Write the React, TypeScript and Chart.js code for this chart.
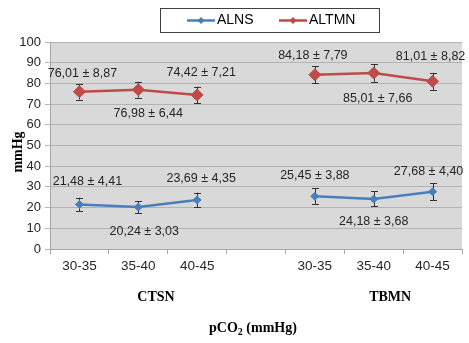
import React, { useEffect, useRef } from "react";
import { Chart, registerables } from "chart.js";
Chart.register(...registerables);

const categories = ["30-35", "35-40", "40-45", "", "30-35", "35-40", "40-45"];
const groups = ["CTSN", "TBMN"];
const alns = [21.48, 20.24, 23.69, null, 25.45, 24.18, 27.68];
const altmn = [76.01, 76.98, 74.42, null, 84.18, 85.01, 81.01];
const alnsErr = [3.3, 3.0, 3.6, null, 3.8, 3.6, 4.1];
const altmnErr = [3.8, 3.8, 4.0, null, 4.2, 4.2, 4.1];
const alnsLabels = ["21,48 ± 4,41", "20,24 ± 3,03", "23,69 ± 4,35", "", "25,45 ± 3,88", "24,18 ± 3,68", "27,68 ± 4,40"];
const altmnLabels = ["76,01 ± 8,87", "76,98 ± 6,44", "74,42 ± 7,21", "", "84,18 ± 7,79", "85,01 ± 7,66", "81,01 ± 8,82"];
const yMin = 0;
const yMax = 100;
const yStep = 10;
const xTitle = "pCO";
const xTitleSub = "2";
const xTitleRest = " (mmHg)";
const yTitle = "mmHg";

// label offsets (styling)
const alnsOff = [[8, -23], [6, 24], [4, -21], [0, 0], [0, -21], [0, 23], [-4, -20]];
const altmnOff = [[3, -18], [10, 24], [4, -22], [0, 0], [-2, -19], [4, 26], [-2, -25]];
const groupPos = [1.3, 5.28];

const BLUE = "#4a7ebb";
const RED = "#be4b48";

const plugin = {
  id: "custom",
  beforeDraw(chart: any) {
    const { ctx, chartArea: a } = chart;
    ctx.save();
    ctx.fillStyle = "#d9d9d9";
    ctx.fillRect(a.left, a.top, a.right - a.left, a.bottom - a.top);
    ctx.restore();
  },
  beforeDatasetsDraw(chart: any) {
    const { ctx } = chart;
    const xs = chart.scales.x;
    const ys = chart.scales.y;
    const sets = [
      [alns, alnsErr],
      [altmn, altmnErr],
    ];
    ctx.save();
    ctx.strokeStyle = "#333333";
    ctx.lineWidth = 1;
    sets.forEach(([vals, errs]: any) => {
      vals.forEach((v: any, i: number) => {
        if (v == null) return;
        const x = Math.round(xs.getPixelForValue(i)) + 0.5;
        const t = ys.getPixelForValue(v + errs[i]);
        const b = ys.getPixelForValue(v - errs[i]);
        ctx.beginPath();
        ctx.moveTo(x, t);
        ctx.lineTo(x, b);
        ctx.moveTo(x - 3.5, Math.round(t) + 0.5);
        ctx.lineTo(x + 3.5, Math.round(t) + 0.5);
        ctx.moveTo(x - 3.5, Math.round(b) + 0.5);
        ctx.lineTo(x + 3.5, Math.round(b) + 0.5);
        ctx.stroke();
      });
    });
    ctx.restore();
  },
  afterDraw(chart: any) {
    const { ctx } = chart;
    const xs = chart.scales.x;
    const ys = chart.scales.y;
    ctx.save();
    // data labels
    ctx.font = '12.5px "Liberation Sans"';
    ctx.fillStyle = "#262626";
    ctx.textAlign = "center";
    ctx.textBaseline = "middle";
    const lab = [
      [alns, alnsLabels, alnsOff],
      [altmn, altmnLabels, altmnOff],
    ];
    lab.forEach(([vals, labels, off]: any) => {
      vals.forEach((v: any, i: number) => {
        if (v == null) return;
        ctx.fillText(labels[i], xs.getPixelForValue(i) + off[i][0], ys.getPixelForValue(v) + off[i][1]);
      });
    });
    // group labels
    ctx.font = 'bold 14px "Liberation Serif"';
    ctx.fillStyle = "#000";
    groups.forEach((g, k) => {
      ctx.fillText(g, xs.getPixelForValue(groupPos[k]), 297);
    });
    // x title
    ctx.font = 'bold 14px "Liberation Serif"';
    const w1 = ctx.measureText(xTitle).width;
    ctx.font = 'bold 10px "Liberation Serif"';
    const w2 = ctx.measureText(xTitleSub).width;
    ctx.font = 'bold 14px "Liberation Serif"';
    const w3 = ctx.measureText(xTitleRest).width;
    const tw = w1 + w2 + w3;
    const sx = 253 - tw / 2;
    ctx.textAlign = "left";
    ctx.fillText(xTitle, sx, 328);
    ctx.font = 'bold 10px "Liberation Serif"';
    ctx.fillText(xTitleSub, sx + w1, 332);
    ctx.font = 'bold 14px "Liberation Serif"';
    ctx.fillText(xTitleRest, sx + w1 + w2, 328);
    // y title
    ctx.save();
    ctx.translate(18, 152);
    ctx.rotate(-Math.PI / 2);
    ctx.textAlign = "center";
    ctx.font = 'bold 14px "Liberation Serif"';
    ctx.fillText(yTitle, 0, 0);
    ctx.restore();
    // legend
    ctx.strokeStyle = "#404040";
    ctx.lineWidth = 1;
    ctx.fillStyle = "#ffffff";
    ctx.fillRect(160.5, 8.5, 219, 24);
    ctx.strokeRect(160.5, 8.5, 219, 24);
    const items = [
      { label: "ALNS", color: BLUE, x: 187 },
      { label: "ALTMN", color: RED, x: 279 },
    ];
    items.forEach((it) => {
      ctx.strokeStyle = it.color;
      ctx.lineWidth = 2.5;
      ctx.beginPath();
      ctx.moveTo(it.x, 20.5);
      ctx.lineTo(it.x + 28, 20.5);
      ctx.stroke();
      ctx.fillStyle = it.color;
      ctx.beginPath();
      const cx = it.x + 14;
      ctx.moveTo(cx, 17);
      ctx.lineTo(cx + 3.5, 20.5);
      ctx.lineTo(cx, 24);
      ctx.lineTo(cx - 3.5, 20.5);
      ctx.closePath();
      ctx.fill();
      ctx.fillStyle = "#000";
      ctx.font = '14px "Liberation Sans"';
      ctx.textAlign = "left";
      ctx.textBaseline = "middle";
      ctx.fillText(it.label, it.x + 30, 20.5);
    });
    ctx.restore();
  },
};

export default function App() {
  const ref = useRef<HTMLCanvasElement | null>(null);
  useEffect(() => {
    if (!ref.current) return;
    const chart = new Chart(ref.current, {
      type: "line",
      data: {
        labels: categories,
        datasets: [
          {
            label: "ALNS",
            data: alns,
            borderColor: BLUE,
            backgroundColor: BLUE,
            borderWidth: 2.5,
            pointStyle: "rectRot",
            pointRadius: 4,
            pointBorderWidth: 1,
            spanGaps: false,
            tension: 0,
          },
          {
            label: "ALTMN",
            data: altmn,
            borderColor: RED,
            backgroundColor: RED,
            borderWidth: 2.5,
            pointStyle: "rectRot",
            pointRadius: 6,
            pointBorderWidth: 1,
            spanGaps: false,
            tension: 0,
          },
        ],
      },
      options: {
        animation: false,
        responsive: false,
        devicePixelRatio: 1,
        layout: { padding: { top: 42, right: 1, left: 0, bottom: 0 } },
        plugins: { legend: { display: false }, tooltip: { enabled: false } },
        scales: {
          x: {
            offset: true,
            grid: { offset: true, drawOnChartArea: false, tickLength: 5, color: "#a6a6a6" },
            border: { color: "#a6a6a6" },
            ticks: { font: { family: "Liberation Sans", size: 13.5 }, color: "#262626", padding: 4, maxRotation: 0, autoSkip: false },
            afterFit: (s: any) => {
              s.height = 94;
            },
          },
          y: {
            min: yMin,
            max: yMax,
            ticks: { stepSize: yStep, font: { family: "Liberation Sans", size: 13 }, color: "#262626", padding: 4 },
            grid: { color: "#b3b3b3", tickLength: 5 },
            border: { color: "#a6a6a6" },
            afterFit: (s: any) => {
              s.width = 50;
            },
          },
        },
      },
      plugins: [plugin],
    } as any);
    return () => chart.destroy();
  }, []);
  return (
    <div style={{ position: "absolute", left: 0, top: 0, width: 469, height: 343, background: "#fff" }}>
      <canvas ref={ref} width={469} height={343} />
    </div>
  );
}
